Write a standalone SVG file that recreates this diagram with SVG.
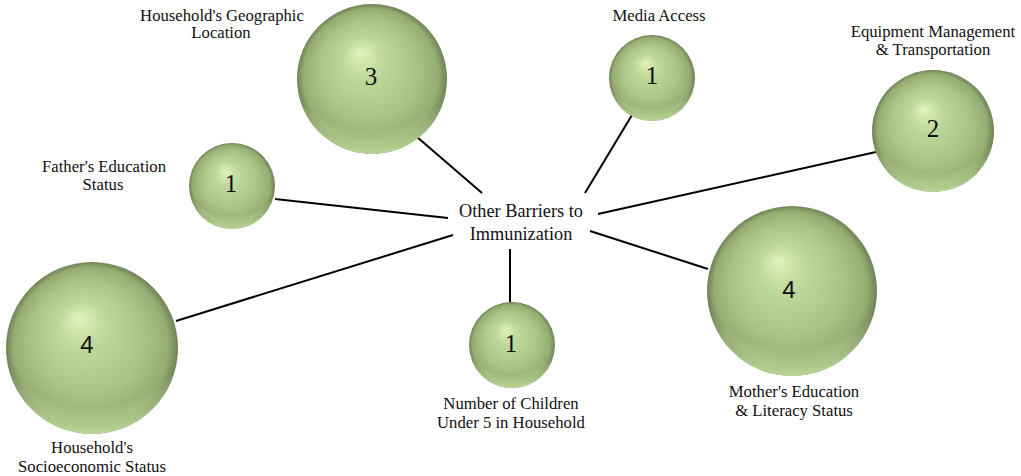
<svg xmlns="http://www.w3.org/2000/svg" width="1021" height="476" viewBox="0 0 1021 476">
<defs>
<radialGradient id="ball" cx="0.5" cy="0.5" r="0.5" fx="0.42" fy="0.32">
<stop offset="0" stop-color="#e0f3bd"/>
<stop offset="0.28" stop-color="#bed79a"/>
<stop offset="0.65" stop-color="#aac386"/>
<stop offset="0.9" stop-color="#95ad72"/>
<stop offset="1" stop-color="#6f8157"/>
</radialGradient>
<radialGradient id="rim" cx="0.5" cy="0.22" r="0.8">
<stop offset="0.78" stop-color="#c6e2a0" stop-opacity="0"/>
<stop offset="0.93" stop-color="#c6e2a0" stop-opacity="0.7"/>
<stop offset="1" stop-color="#d0eaa8" stop-opacity="0.9"/>
</radialGradient>
</defs>
<style>
.b{fill:url(#ball)}
.r{fill:url(#rim)}
.l{stroke:#000;stroke-width:2;fill:none}
.t{font-family:"Liberation Serif","Times New Roman",serif;font-size:16.7px;fill:#111;text-anchor:middle}
.n{font-family:"Liberation Serif","Times New Roman",serif;font-size:25px;fill:#111;text-anchor:middle}
.s{font-family:"Liberation Sans",Arial,sans-serif;font-size:24px;fill:#111;text-anchor:middle}
.m{font-family:"Liberation Serif","Times New Roman",serif;font-size:18.3px;fill:#111;text-anchor:middle}
</style>
<rect width="1021" height="476" fill="#fff"/>
<g id="connectors">
<line class="l" x1="417" y1="137" x2="482" y2="193"/>
<line class="l" x1="632" y1="115" x2="585" y2="193"/>
<line class="l" x1="876" y1="152" x2="598" y2="214"/>
<line class="l" x1="275" y1="199" x2="448" y2="218"/>
<line class="l" x1="176" y1="321" x2="453" y2="235"/>
<line class="l" x1="590" y1="231" x2="708" y2="269"/>
<line class="l" x1="510" y1="249" x2="510" y2="303"/>
</g>
<g id="center">
<text class="m" x="521" y="217">Other Barriers to</text>
<text class="m" x="521" y="240">Immunization</text>
</g>
<g id="geographic">
<circle class="b" cx="372" cy="79" r="75"/>
<circle class="r" cx="372" cy="79" r="75"/>
<text class="n" x="371" y="85">3</text>
<text class="t" x="222" y="21">Household's Geographic</text>
<text class="t" x="221" y="38">Location</text>
</g>
<g id="media">
<circle class="b" cx="652" cy="78" r="43"/>
<circle class="r" cx="652" cy="78" r="43"/>
<text class="n" x="652" y="84">1</text>
<text class="t" x="659" y="21">Media Access</text>
</g>
<g id="equipment">
<circle class="b" cx="933" cy="131" r="61"/>
<circle class="r" cx="933" cy="131" r="61"/>
<text class="n" x="933" y="137">2</text>
<text class="t" x="933" y="37">Equipment Management</text>
<text class="t" x="933" y="55">&amp; Transportation</text>
</g>
<g id="father">
<circle class="b" cx="232" cy="186" r="43"/>
<circle class="r" cx="232" cy="186" r="43"/>
<text class="n" x="231" y="192">1</text>
<text class="t" x="104" y="172">Father's Education</text>
<text class="t" x="103" y="190">Status</text>
</g>
<g id="socioeconomic">
<circle class="b" cx="92" cy="348" r="86"/>
<circle class="r" cx="92" cy="348" r="86"/>
<text class="s" x="87" y="353">4</text>
<text class="t" x="92" y="453">Household's</text>
<text class="t" x="92" y="472">Socioeconomic Status</text>
</g>
<g id="mother">
<circle class="b" cx="792" cy="291" r="85"/>
<circle class="r" cx="792" cy="291" r="85"/>
<text class="s" x="789" y="298">4</text>
<text class="t" x="794" y="397">Mother's Education</text>
<text class="t" x="794" y="416">&amp; Literacy Status</text>
</g>
<g id="children">
<circle class="b" cx="512" cy="345" r="43"/>
<circle class="r" cx="512" cy="345" r="43"/>
<text class="n" x="511" y="352">1</text>
<text class="t" x="511" y="409">Number of Children</text>
<text class="t" x="511" y="428">Under 5 in Household</text>
</g>
</svg>
